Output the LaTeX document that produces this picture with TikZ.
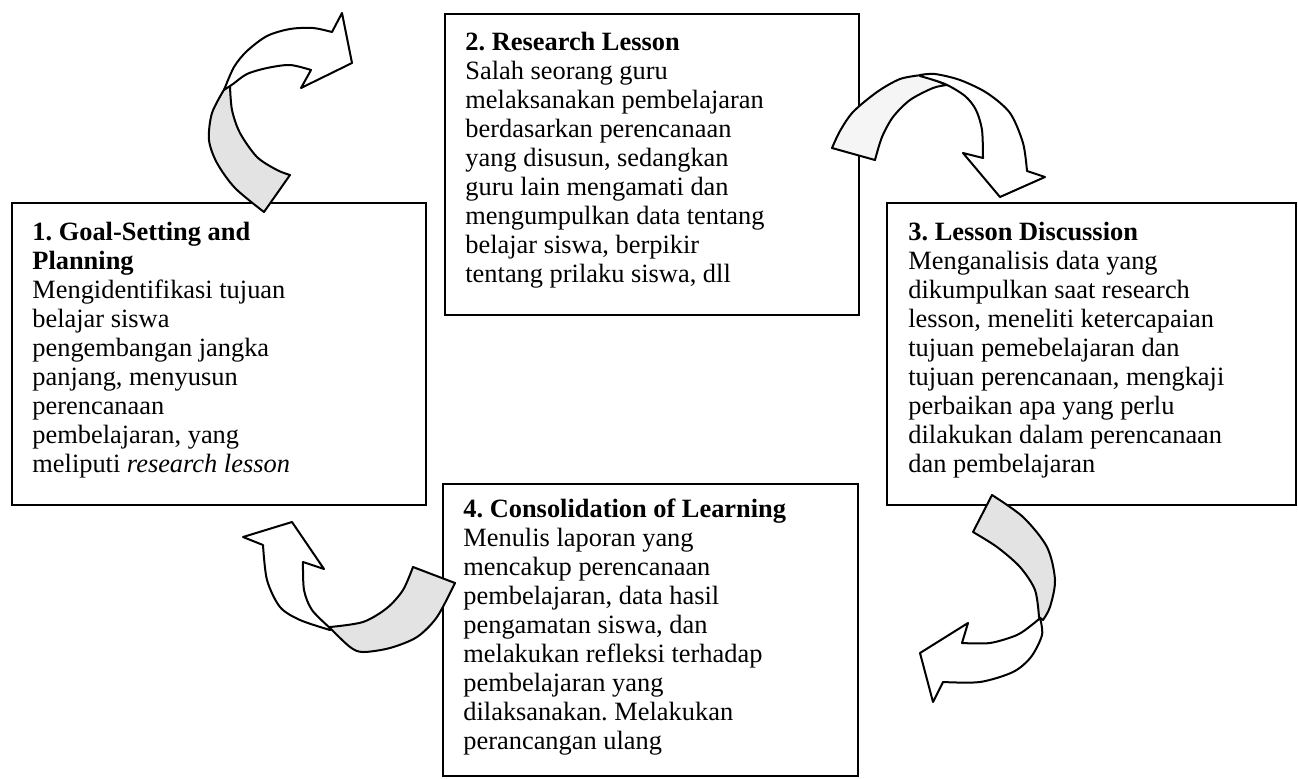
\documentclass[tikz,border=0pt]{standalone}
\usepackage{fontspec}
\setmainfont{Liberation Serif}
\usetikzlibrary{fit}
\frenchspacing
\begin{document}
\begin{tikzpicture}[x=0.5pt,y=-0.5pt,
  box/.style={draw, line width=1.2pt, inner sep=0pt},
  txt/.style={inner sep=0pt, anchor=base west, font=\fontsize{13.2}{14.5}\selectfont},
  front/.style={draw, line width=1pt, fill=white, line join=round},
  back/.style={draw, line width=1pt, fill=black!11, line join=round},
  backlight/.style={draw, line width=1pt, fill=black!4, line join=round}]
\useasboundingbox (0,0) rectangle (1298,778);

% boxes
\coordinate (b1a) at (12,203);  \coordinate (b1b) at (426,505);
\coordinate (b2a) at (445,14);  \coordinate (b2b) at (859,315);
\coordinate (b3a) at (887,203); \coordinate (b3b) at (1296,505);
\coordinate (b4a) at (443,484); \coordinate (b4b) at (858,776);
\node[box, fit=(b1a)(b1b)] (box1) {};
\node[box, fit=(b2a)(b2b)] (box2) {};
\node[box, fit=(b3a)(b3b)] (box3) {};
\node[box, fit=(b4a)(b4b)] (box4) {};

% texts
\node[txt] (t1) at (32,240) {\parbox[t]{200pt}{\textbf{1. Goal-Setting and}\\
\textbf{Planning}\\
Mengidentifikasi tujuan\\
belajar siswa\\
pengembangan jangka\\
panjang, menyusun\\
perencanaan\\
pembelajaran, yang\\
meliputi \textit{research lesson}}};

\node[txt] (t2) at (465,50) {\parbox[t]{200pt}{\textbf{2. Research Lesson}\\
Salah seorang guru\\
melaksanakan pembelajaran\\
berdasarkan perencanaan\\
yang disusun, sedangkan\\
guru lain mengamati dan\\
mengumpulkan data tentang\\
belajar siswa, berpikir\\
tentang prilaku siswa, dll}};

\node[txt] (t3) at (908,240) {\parbox[t]{200pt}{\textbf{3. Lesson Discussion}\\
Menganalisis data yang\\
dikumpulkan saat research\\
lesson, meneliti ketercapaian\\
tujuan pemebelajaran dan\\
tujuan perencanaan, mengkaji\\
perbaikan apa yang perlu\\
dilakukan dalam perencanaan\\
dan pembelajaran}};

\node[txt] (t4) at (463,517) {\parbox[t]{200pt}{\textbf{4. Consolidation of Learning}\\
Menulis laporan yang\\
mencakup perencanaan\\
pembelajaran, data hasil\\
pengamatan siswa, dan\\
melakukan refleksi terhadap\\
pembelajaran yang\\
dilaksanakan. Melakukan\\
perancangan ulang}};

% arrow 1 (box 1 -> box 2)
\draw[back] plot[smooth] coordinates {(225,88) (212,113) (209,140) (217,163) (235,188) (264,212)}
  -- plot[smooth] coordinates {(290,175) (277,170) (257,157) (240,133) (232,110) (230,86)} -- cycle;
\draw[front] plot[smooth] coordinates {(224,90) (234,67) (247,51) (267,36) (290,29) (313,28) (332,32)}
  -- (342,13) -- (352,63) -- (301,88)
  -- plot[smooth] coordinates {(311,70) (290,65) (267,68) (247,74) (233,84) (224,90)} -- cycle;

% arrow 2 (box 2 -> box 3)
\draw[backlight] plot[smooth] coordinates {(832,148) (840,131) (853,112) (877,92) (900,79) (922,75)}
  -- plot[smooth] coordinates {(947,85) (933,88) (910,100) (893,117) (882,137) (875,160)} -- cycle;
\draw[front] plot[smooth] coordinates {(920,75) (935,74) (960,80) (987,93) (1010,113) (1023,143) (1027,171)}
  -- (1045,177) -- (1000,197) -- (963,153)
  -- plot[smooth] coordinates {(983,158) (982,130) (976,110) (965,96) (945,84) (920,76)} -- cycle;

% arrow 3 (box 3 -> box 4)
\draw[back] plot[smooth] coordinates {(1043,620) (1050,607) (1055,580) (1047,547) (1023,517) (992,495)}
  -- plot[smooth] coordinates {(973,532) (997,547) (1020,567) (1035,590) (1039,617)} -- cycle;
\draw[front] plot[smooth] coordinates {(1040,618) (1042,635) (1031,657) (1013,672) (980,682) (943,682)}
  -- (933,702) -- (920,653) -- (968,623)
  -- plot[smooth] coordinates {(962,643) (990,643) (1017,635) (1033,624) (1040,618)} -- cycle;

% arrow 4 (box 4 -> box 1)
\draw[back] plot[smooth] coordinates {(330,628) (350,647) (363,652) (390,648) (417,637) (437,617) (455,583)}
  -- plot[smooth] coordinates {(413,567) (403,590) (387,608) (363,622) (330,627)} -- cycle;
\draw[front] plot[smooth] coordinates {(263,545) (267,580) (280,607) (300,620) (330,630)}
  -- plot[smooth] coordinates {(330,628) (312,610) (304,590) (303,562)}
  -- (324,569) -- (292,522) -- (243,537) -- cycle;
\end{tikzpicture}
\end{document}
